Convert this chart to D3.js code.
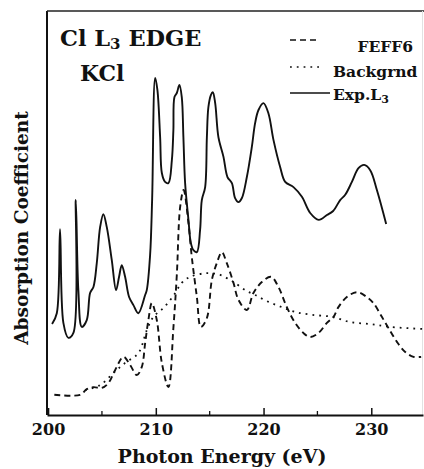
<!DOCTYPE html>
<html>
<head>
<meta charset="utf-8">
<script src="https://cdn.jsdelivr.net/npm/d3@7"></script>
<style>
  body { margin: 0; background: #fff; }
  text { font-family: "DejaVu Serif", "Liberation Serif", serif; font-weight: bold; fill: #111; }
</style>
</head>
<body>
<svg id="chart" width="424" height="469"></svg>
<script>
// photon energy (eV) and absorption (arb. units)
let expE = [200.37, 200.81, 201.11, 201.42, 201.88, 202.35, 202.57, 202.81, 203.13, 203.59, 203.9, 204.21, 204.52, 204.83, 205.13, 205.45, 205.91, 206.31, 206.59, 206.84, 207.15, 207.52, 207.92, 208.38, 209.01, 209.16, 209.47, 209.66, 209.94, 210.15, 210.4, 210.56, 210.86, 211.17, 211.49, 211.63, 211.73, 211.95, 212.19, 212.41, 212.56, 212.72, 213.03, 213.25, 213.49, 213.81, 214.11, 214.27, 214.58, 214.74, 214.88, 215.11, 215.29, 215.51, 215.81, 216.28, 216.65, 217.06, 217.36, 217.67, 217.99, 218.45, 218.91, 219.22, 219.53, 219.99, 220.45, 220.92, 221.54, 222.01, 222.78, 223.56, 224.33, 225.12, 225.88, 226.46, 227.11, 227.58, 228.2, 228.81, 229.34, 229.9, 230.52, 231.38];
let expY = [22.5, 25.2, 46.0, 22.8, 19.1, 20.3, 53.2, 30.9, 21.8, 23.5, 30.2, 31.7, 37.6, 46.5, 49.7, 46.5, 38.4, 30.9, 34.2, 37.1, 34.2, 29.2, 27.2, 25.2, 29.7, 30.9, 39.6, 53.5, 83.4, 80.4, 68.8, 59.9, 57.7, 57.4, 63.1, 70.5, 78.7, 79.7, 81.7, 78.7, 68.8, 57.4, 48.3, 42.6, 40.8, 40.3, 45.8, 53.2, 56.4, 68.8, 76.2, 79.2, 79.9, 77.2, 68.8, 63.9, 58.9, 57.4, 53.7, 52.7, 53.7, 58.9, 66.3, 72.3, 75.5, 77.2, 74.7, 68.1, 61.4, 57.7, 56.4, 54.0, 50.0, 48.3, 49.5, 50.5, 53.2, 54.5, 57.7, 61.1, 61.9, 60.6, 55.7, 47.3];

let feffE = [200.58, 202.97, 203.59, 204.21, 204.99, 205.6, 206.22, 207.0, 207.61, 208.24, 208.7, 209.01, 209.31, 209.63, 210.09, 210.56, 211.17, 211.63, 211.95, 212.26, 212.58, 213.03, 213.34, 213.81, 214.18, 214.74, 215.2, 215.66, 216.13, 216.59, 217.21, 217.67, 218.45, 219.06, 219.84, 220.71, 221.38, 222.16, 222.93, 223.7, 224.33, 225.1, 225.88, 226.49, 226.95, 227.73, 228.66, 229.59, 230.2, 230.98, 231.6, 232.38, 233.15, 233.92, 234.63];
let feffY = [5.0, 5.0, 6.4, 6.9, 6.7, 7.9, 11.1, 14.4, 12.4, 9.9, 11.9, 17.8, 23.5, 27.7, 23.5, 12.9, 6.9, 21.5, 34.7, 51.5, 55.7, 47.5, 39.1, 29.2, 21.8, 24.0, 33.4, 37.6, 40.3, 37.6, 32.7, 28.5, 26.0, 30.2, 32.9, 34.2, 31.7, 26.7, 22.8, 20.3, 19.3, 20.3, 22.8, 24.3, 26.7, 29.2, 30.4, 29.2, 27.7, 24.3, 21.5, 18.1, 15.6, 14.4, 14.4];

let bgE = [203.44, 204.83, 206.06, 207.15, 208.38, 209.16, 209.78, 210.71, 211.63, 212.41, 213.18, 214.74, 215.97, 216.9, 217.36, 218.29, 219.22, 220.45, 221.7, 222.93, 224.48, 226.34, 228.04, 229.9, 231.75, 234.73];
let bgY = [6.2, 7.4, 10.4, 12.9, 15.3, 21.0, 24.3, 26.5, 29.5, 32.7, 34.2, 35.1, 34.7, 33.4, 32.7, 30.9, 29.7, 28.0, 26.7, 25.5, 24.8, 24.3, 23.0, 22.5, 21.8, 21.3];

let majorTicks = [200, 210, 220, 230];
let minorTicks = [205, 215, 225];
let legendNames = ["FEFF6", "Backgrnd", "Exp.L"];

let svg = d3.select("#chart");
let margin = { top: 11, right: 1, bottom: 54, left: 47 };
let width = +svg.attr("width") - margin.left - margin.right;
let height = +svg.attr("height") - margin.top - margin.bottom;

let g = svg.append("g")
  .attr("transform", "translate(" + margin.left + "," + margin.top + ")");

let x = d3.scaleLinear().domain([199.9, 234.8]).range([0, width]);
let y = d3.scaleLinear().domain([0, 100]).range([height, 0]);

let line = d3.line()
  .curve(d3.curveCatmullRom.alpha(0.5))
  .x((d) => x(d[0]))
  .y((d) => y(d[1]));

let zip = (a, b) => a.map((v, i) => [v, b[i]]);

// frame
g.append("line").attr("x1", 0).attr("x2", 0).attr("y1", 0).attr("y2", height)
  .attr("stroke", "#111").attr("stroke-width", 2);
g.append("line").attr("x1", 0).attr("x2", width + 2).attr("y1", 0).attr("y2", 0)
  .attr("stroke", "#222").attr("stroke-width", 1.6);
g.append("line").attr("x1", width - 0.5).attr("x2", width - 0.5).attr("y1", 0).attr("y2", height)
  .attr("stroke", "#e2e2e2").attr("stroke-width", 1);

// bottom axis with inward ticks
let xAxis = g.append("g")
  .attr("transform", "translate(0," + height + ")")
  .call(d3.axisBottom(x).tickValues(majorTicks).tickSizeInner(-7).tickSizeOuter(0).tickFormat(d3.format("d")));
xAxis.select(".domain").attr("stroke", "#111").attr("stroke-width", 2.2);
xAxis.selectAll(".tick line").attr("stroke", "#111").attr("stroke-width", 1.5);
xAxis.selectAll(".tick text")
  .attr("y", 9)
  .style("font-family", "'DejaVu Serif', serif")
  .style("font-weight", "bold")
  .style("font-size", "16px")
  .attr("fill", "#111");

g.append("g")
  .selectAll("line")
  .data(minorTicks)
  .enter()
  .append("line")
  .attr("x1", (d) => x(d)).attr("x2", (d) => x(d))
  .attr("y1", height).attr("y2", height - 4)
  .attr("stroke", "#111").attr("stroke-width", 1.3);

// curves
g.append("path")
  .datum(zip(bgE, bgY))
  .attr("fill", "none")
  .attr("stroke", "#111")
  .attr("stroke-width", 1.8)
  .attr("stroke-dasharray", "1.8,5")
  .attr("d", line);

g.append("path")
  .datum(zip(feffE, feffY))
  .attr("fill", "none")
  .attr("stroke", "#111")
  .attr("stroke-width", 1.9)
  .attr("stroke-dasharray", "6,4")
  .attr("d", line);

g.append("path")
  .datum(zip(expE, expY))
  .attr("fill", "none")
  .attr("stroke", "#111")
  .attr("stroke-width", 1.9)
  .attr("stroke-linejoin", "round")
  .attr("d", line);

// title text
svg.append("text").attr("x", 60).attr("y", 46).style("font-size", "22.5px")
  .html("Cl L<tspan font-size='15px' dy='3'>3</tspan><tspan dy='-3'> EDGE</tspan>");
svg.append("text").attr("x", 80).attr("y", 81).style("font-size", "22px").text("KCl");

// legend
let legend = svg.append("g").attr("class", "legend");
let legendY = [40, 67, 93];
let dashes = ["6,4", "1.8,5", null];
legendNames.forEach(function (name, i) {
  legend.append("line")
    .attr("x1", 290).attr("x2", i === 2 ? 330 : 319)
    .attr("y1", legendY[i]).attr("y2", legendY[i])
    .attr("stroke", "#111").attr("stroke-width", 1.6)
    .attr("stroke-dasharray", dashes[i]);
});
legend.append("text").attr("x", 413).attr("y", 52).attr("text-anchor", "end")
  .style("font-size", "15.5px").text(legendNames[0]);
legend.append("text").attr("x", 333).attr("y", 77)
  .style("font-size", "15.5px").text(legendNames[1]);
legend.append("text").attr("x", 333).attr("y", 100)
  .style("font-size", "15.5px")
  .html(legendNames[2] + "<tspan font-size='11px' dy='3'>3</tspan>");

// axis labels
svg.append("text")
  .attr("x", 222).attr("y", 463)
  .attr("text-anchor", "middle")
  .style("font-size", "19px")
  .text("Photon Energy (eV)");

svg.append("text")
  .attr("transform", "rotate(-90)")
  .attr("x", -228).attr("y", 28)
  .attr("text-anchor", "middle")
  .style("font-size", "18.5px")
  .text("Absorption Coefficient");
</script>
</body>
</html>
